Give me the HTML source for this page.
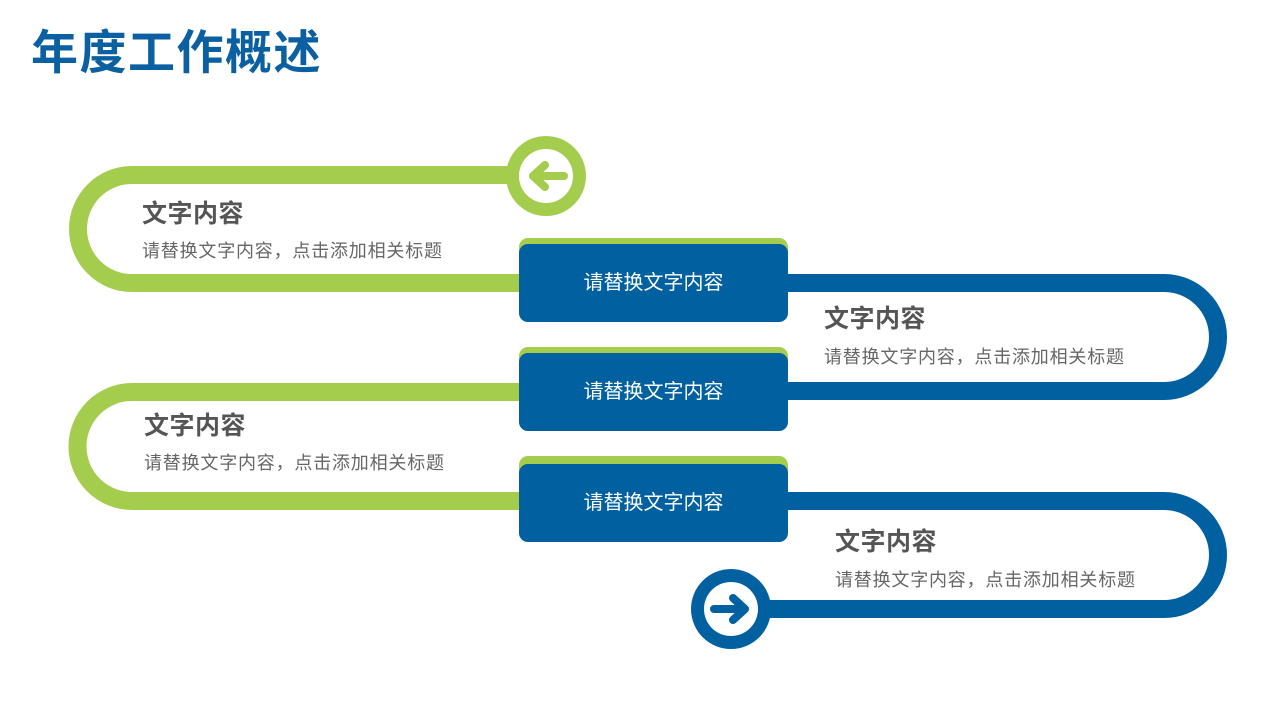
<!DOCTYPE html>
<html><head><meta charset="utf-8"><style>
body{margin:0;width:1280px;height:720px;background:#fff;overflow:hidden;position:relative;font-family:"Liberation Sans","Noto Sans CJK SC",sans-serif}
.t{position:absolute;left:31px;top:14px;font-size:47px;font-weight:bold;color:#0a60a0;letter-spacing:1.5px}
.h{position:absolute;font-size:25px;font-weight:bold;color:#555;letter-spacing:0.5px}
.s{position:absolute;font-size:18px;color:#666;letter-spacing:0.8px}
.box{position:absolute;left:519px;width:269px;height:78px;background:#0060a0;border-radius:9px;color:#fff;font-size:20px;text-align:center;line-height:78px}
.gb{position:absolute;left:519px;width:269px;height:20px;background:#a4cd4e;border-radius:9px 9px 0 0}
svg{position:absolute;left:0;top:0}
</style></head><body>
<svg width="1280" height="720">
<g fill="none" stroke-width="18">
<path d="M510 175 H132 A54 54 0 0 0 132 283 H530" stroke="#a4cd4e"/>
<path d="M780 283 H1164 A54 54 0 0 1 1164 391 H780" stroke="#0060a0"/>
<path d="M530 392 H132 A54.5 54.5 0 0 0 132 501 H530" stroke="#a4cd4e"/>
<path d="M780 501 H1164 A54 54 0 0 1 1164 609 H740" stroke="#0060a0"/>
</g>
<circle cx="546" cy="176" r="40" fill="#a4cd4e"/><circle cx="546" cy="176" r="27" fill="#fff"/>
<path d="M564 176 H536 M545 165 L533 176 L545 187" stroke="#a4cd4e" stroke-width="8" fill="none" stroke-linecap="round" stroke-linejoin="round"/>
<circle cx="731" cy="609" r="40" fill="#0060a0"/><circle cx="731" cy="609" r="27" fill="#fff"/>
<path d="M714 609 H742 M733 598 L745 609 L733 620" stroke="#0060a0" stroke-width="8" fill="none" stroke-linecap="round" stroke-linejoin="round"/>
</svg>
<div class="t">年度工作概述</div>
<div class="gb" style="top:238px"></div><div class="box" style="top:244px">请替换文字内容</div>
<div class="gb" style="top:347px"></div><div class="box" style="top:353px">请替换文字内容</div>
<div class="gb" style="top:456px"></div><div class="box" style="top:464px">请替换文字内容</div>
<div class="h" style="left:142px;top:194px">文字内容</div><div class="s" style="left:142px;top:237px">请替换文字内容，点击添加相关标题</div>
<div class="h" style="left:824px;top:299px">文字内容</div><div class="s" style="left:824px;top:343px">请替换文字内容，点击添加相关标题</div>
<div class="h" style="left:144px;top:406px">文字内容</div><div class="s" style="left:144px;top:449px">请替换文字内容，点击添加相关标题</div>
<div class="h" style="left:835px;top:522px">文字内容</div><div class="s" style="left:835px;top:566px">请替换文字内容，点击添加相关标题</div>
</body></html>
